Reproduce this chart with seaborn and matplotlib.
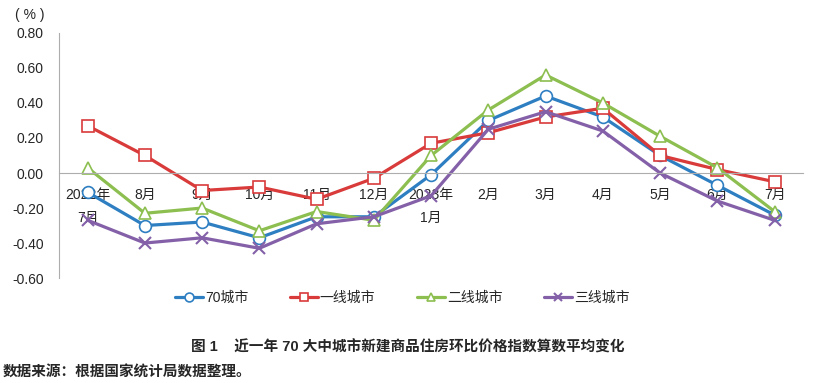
import pandas as pd
import matplotlib.pyplot as plt
import seaborn as sns

# Month labels (x axis)
months = ['2022年\n7月', '8月', '9月', '10月', '11月', '12月', '2023年\n1月',
          '2月', '3月', '4月', '5月', '6月', '7月']

# Month-on-month change of new home price index (%)
city70 = [-0.11, -0.30, -0.28, -0.37, -0.25, -0.25, -0.01, 0.30, 0.44, 0.32, 0.10, -0.07, -0.24]
tier1 = [0.27, 0.10, -0.10, -0.08, -0.15, -0.03, 0.17, 0.23, 0.32, 0.37, 0.10, 0.02, -0.05]
tier2 = [0.03, -0.23, -0.20, -0.33, -0.22, -0.27, 0.10, 0.36, 0.56, 0.40, 0.21, 0.03, -0.22]
tier3 = [-0.27, -0.40, -0.37, -0.43, -0.29, -0.25, -0.13, 0.25, 0.35, 0.24, 0.00, -0.16, -0.27]

series_names = ['70城市', '一线城市', '二线城市', '三线城市']
colors = ['#2E7EC2', '#D93A3A', '#8CBE50', '#8460A8']
markers = ['o', 's', '^', 'x']

sns.set_style('white')
plt.rcParams['font.family'] = ['Liberation Sans', 'Noto Sans CJK SC', 'DejaVu Sans']
plt.rcParams['axes.unicode_minus'] = False

fig = plt.figure(figsize=(8.16, 3.83), dpi=100)
ax = fig.add_axes([0.0723, 0.274, 0.912, 0.64])

for name, vals, c, m in zip(series_names, [city70, tier1, tier2, tier3], colors, markers):
    df = pd.DataFrame({'month': months, 'value': vals})
    kw = dict(markerfacecolor='white', markeredgecolor=c, markeredgewidth=1.2, markersize=8.5)
    if m == 'x':
        kw = dict(markeredgecolor=c, markeredgewidth=1.5, markersize=8)
    sns.lineplot(data=df, x='month', y='value', ax=ax, color=c, marker=m,
                 linewidth=2.3, label=name, sort=False, **kw)

ax.set_xlim(-0.5, len(months) - 0.5)
ax.set_ylim(-0.6, 0.8)
ax.set_yticks([-0.6, -0.4, -0.2, 0.0, 0.2, 0.4, 0.6, 0.8])
ax.set_yticklabels([f'{v:.2f}' for v in ax.get_yticks()], fontsize=10)
ax.set_xlabel('')
ax.set_ylabel('')

# Excel-like axes: x axis crossing at zero, category ticks between points
ax.spines['bottom'].set_position(('data', 0))
for s in ['top', 'right']:
    ax.spines[s].set_visible(False)
ax.spines['bottom'].set_color('#ADADAD')
ax.spines['left'].set_color('#ADADAD')
ax.set_xticks(range(len(months)))
ax.set_xticklabels(months, fontsize=10, linespacing=1.8)
ax.set_xticks([i + 0.5 for i in range(-1, len(months))], minor=True)
ax.tick_params(axis='x', which='major', length=0, pad=11)
ax.tick_params(axis='x', which='minor', length=5, color='#ADADAD', direction='out')
ax.tick_params(axis='y', length=5, color='#ADADAD', direction='out', pad=6)

ax.legend_.remove()
handles, labels = ax.get_legend_handles_labels()
fig.legend(handles, labels, loc='center', bbox_to_anchor=(0.493, 0.222), ncol=4,
           frameon=False, fontsize=10, handlelength=2.0, columnspacing=3.0,
           handletextpad=0.15, markerscale=0.75)

fig.text(0.018, 0.96, '( % )', fontsize=10, ha='left', va='center')
fig.text(0.5, 0.092, '图 1    近一年 70 大中城市新建商品住房环比价格指数算数平均变化',
         fontsize=10.5, fontweight='bold', ha='center', va='center')
fig.text(0.003, 0.026, '数据来源：根据国家统计局数据整理。',
         fontsize=10.5, fontweight='bold', ha='left', va='center')

plt.savefig('out.png', dpi=100)
